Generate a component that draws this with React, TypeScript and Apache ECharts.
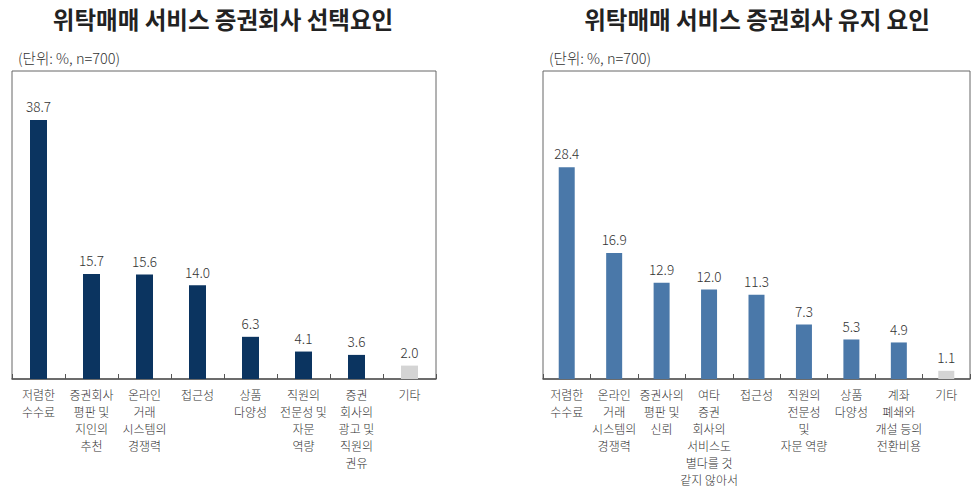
import React, { useEffect, useRef } from 'react';
import * as echarts from 'echarts';

// 선택요인 (왼쪽)
const selectCategories = [
  '저렴한\n수수료',
  '증권회사\n평판 및\n지인의\n추천',
  '온라인\n거래\n시스템의\n경쟁력',
  '접근성',
  '상품\n다양성',
  '직원의\n전문성 및\n자문\n역량',
  '증권\n회사의\n광고 및\n직원의\n권유',
  '기타',
];
const selectValues = [38.7, 15.7, 15.6, 14.0, 6.3, 4.1, 3.6, 2.0];

// 유지 요인 (오른쪽)
const keepCategories = [
  '저렴한\n수수료',
  '온라인\n거래\n시스템의\n경쟁력',
  '증권사의\n평판 및\n신뢰',
  '여타\n증권\n회사의\n서비스도\n별다를 것\n같지 않아서',
  '접근성',
  '직원의\n전문성\n및\n자문 역량',
  '상품\n다양성',
  '계좌\n폐쇄와\n개설 등의\n전환비용',
  '기타',
];
const keepValues = [28.4, 16.9, 12.9, 12.0, 11.3, 7.3, 5.3, 4.9, 1.1];

const FONT = '"Noto Sans CJK KR", "Noto Sans", sans-serif';
const OTHER_COLOR = '#d4d4d4';

const toBars = (values: number[], color: string) =>
  values.map((v, i) => ({
    value: v,
    itemStyle: { color: i === values.length - 1 ? OTHER_COLOR : color },
  }));

const App: React.FC = () => {
  const chartRef = useRef<HTMLDivElement>(null);

  useEffect(() => {
    document.body.style.margin = '0';
    if (!chartRef.current) return;
    const chart = echarts.init(chartRef.current, null, { renderer: 'svg' });

    const xAxisCommon = {
      type: 'category' as const,
      axisLine: { show: true, lineStyle: { color: '#555', width: 1.5 } },
      axisTick: { show: true, inside: true, length: 5, interval: 0, lineStyle: { color: '#555' } },
      axisLabel: {
        interval: 0,
        margin: 7,
        color: '#333',
        fontFamily: FONT,
        fontSize: 12,
        fontWeight: 300,
        lineHeight: 17,
        verticalAlign: 'top' as const,
      },
    };
    const yAxisCommon = {
      type: 'value' as const,
      min: 0,
      show: false,
      splitLine: { show: false },
    };
    const labelCommon = {
      show: true,
      position: 'top' as const,
      distance: 7,
      color: '#333',
      fontFamily: FONT,
      fontSize: 13.5,
      fontWeight: 300,
      formatter: (p: any) => Number(p.value).toFixed(1),
    };

    const titleStyle = { fontFamily: FONT, fontSize: 23.5, fontWeight: 'bold' as const, color: '#222' };
    const subStyle = { fontFamily: FONT, fontSize: 14.5, fontWeight: 300, color: '#333' };

    const option: any = {
      animation: false,
      title: [
        { text: '위탁매매 서비스 증권회사 선택요인', left: 218, top: 2, textAlign: 'center', textStyle: titleStyle },
        { text: '위탁매매 서비스 증권회사 유지 요인', left: 752, top: 2, textAlign: 'center', textStyle: titleStyle },
        { text: '(단위: %, n=700)', left: 13, top: 45, textStyle: subStyle },
        { text: '(단위: %, n=700)', left: 544, top: 45, textStyle: subStyle },
      ],
      grid: [
        {
          left: 12, right: 541, top: 71, bottom: 111,
          show: true, borderColor: '#666', borderWidth: 1, outerBoundsMode: 'none',
        },
        {
          left: 543, right: 7, top: 71, bottom: 111,
          show: true, borderColor: '#666', borderWidth: 1, outerBoundsMode: 'none',
        },
      ],
      xAxis: [
        { ...xAxisCommon, gridIndex: 0, data: selectCategories },
        { ...xAxisCommon, gridIndex: 1, data: keepCategories },
      ],
      yAxis: [
        { ...yAxisCommon, gridIndex: 0, max: 46 },
        { ...yAxisCommon, gridIndex: 1, max: 41.3 },
      ],
      series: [
        {
          type: 'bar',
          xAxisIndex: 0,
          yAxisIndex: 0,
          barWidth: 17,
          data: toBars(selectValues, '#0b3460'),
          label: labelCommon,
        },
        {
          type: 'bar',
          xAxisIndex: 1,
          yAxisIndex: 1,
          barWidth: 16,
          data: toBars(keepValues, '#4a78a9'),
          label: labelCommon,
        },
      ],
    };

    chart.setOption(option);

    return () => {
      chart.dispose();
    };
  }, []);

  return <div ref={chartRef} style={{ width: 977, height: 490 }} />;
};

export default App;
